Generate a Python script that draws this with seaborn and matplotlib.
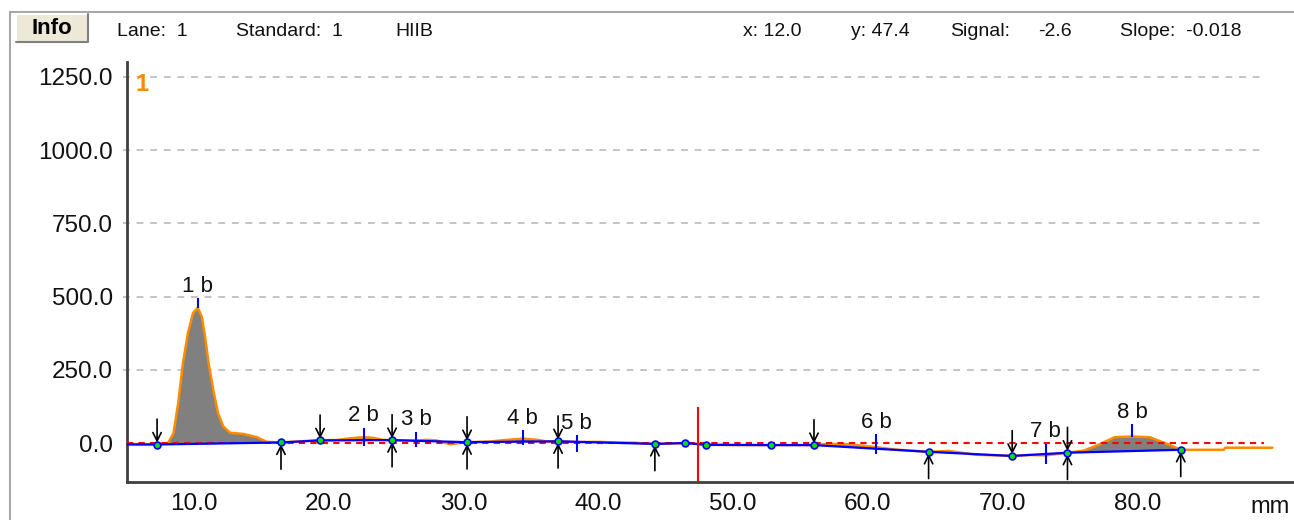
import numpy as np
import matplotlib
matplotlib.use("Agg")
import matplotlib.pyplot as plt
import seaborn as sns
from matplotlib.patches import Rectangle
from matplotlib.lines import Line2D

# ---------------- data ----------------
signal_x = [5.0, 7.28, 8.1, 8.5, 8.85, 9.2, 9.57, 9.95, 10.3, 10.6, 10.84, 11.1, 11.45, 11.8,
            12.2, 12.7, 13.7, 14.7, 15.4, 16.47, 18.0, 19.37, 20.5, 21.2, 22.0, 22.6, 23.3,
            24.0, 24.71, 26.5, 27.3, 28.0, 29.0, 30.27, 32.0, 33.0, 34.4, 35.5, 36.2, 37.02,
            38.4, 40.0, 41.5, 42.6, 44.2, 46.46, 47.99, 50.0, 52.8, 56.0, 57.0, 58.5, 60.6,
            62.0, 64.5, 66.0, 68.0, 70.7, 72.0, 73.2, 74.8, 76.0, 77.0, 78.3, 79.6, 80.9,
            82.3, 83.2, 86.4, 86.5, 90.0]
signal_y = [-3, -4, 0, 34, 137, 273, 376, 444, 462, 431, 363, 273, 181, 102,
            56, 35, 31, 20, 4, 2, 6, 10, 10, 14, 18, 20, 18,
            11, 10, 8, 11, 9, -4, 3, 5, 10, 15, 11, 5, 6,
            3, 4, 2, 1, -3, 0, -6, -7, -7, -7, -3, -4, -14,
            -22, -30, -27, -40, -44, -41, -42, -33, -26, -8, 20, 22, 20,
            -5, -23, -23, -16, -16]

baseline_x = [5.0, 7.28, 16.47, 19.37, 24.71, 30.27, 37.02, 44.2, 46.46, 47.99,
              52.8, 56.0, 64.5, 70.7, 74.8, 83.2]
baseline_y = [-5, -5, 2, 9, 10, 3, 6, -3, 0, -6, -7, -7, -30, -44, -33, -23]

dot_x = [7.28, 16.47, 19.37, 24.71, 30.27, 37.02, 44.2, 46.46, 47.99, 52.8,
         56.0, 64.5, 70.7, 74.8, 83.2]

down_arrow_x = [7.28, 19.37, 24.71, 30.27, 37.02, 56.0, 70.7, 74.8]
up_arrow_x = [16.47, 24.71, 30.27, 37.02, 44.2, 64.5, 74.8, 83.2]

peak_labels = ["1 b", "2 b", "3 b", "4 b", "5 b", "6 b", "7 b", "8 b"]
peak_x = [10.3, 22.6, 26.5, 34.4, 38.4, 60.6, 73.2, 79.6]
peak_tick_low = [461, -9, -13, -7, -30, -36, -70, 21]
peak_tick_high = [495, 52, 39, 44, 27, 31, -3, 64]

x_ticks = [10.0, 20.0, 30.0, 40.0, 50.0, 60.0, 70.0, 80.0]
y_ticks = [0.0, 250.0, 500.0, 750.0, 1000.0, 1250.0]
cursor_x = 47.4
cursor_top = 123

header_left = [("Lane:  1", 117), ("Standard:  1", 236), ("HIIB", 395)]
header_right = [("x: 12.0", 743), ("y: 47.4", 851), ("Signal:", 950), ("-2.6", 1038),
                ("Slope:  -0.018", 1120)]

# ---------------- style ----------------
sns.set_style("white")
plt.rcParams["font.family"] = ["Liberation Sans", "DejaVu Sans"]

W, H = 1294, 520
fig = plt.figure(figsize=(W / 100, H / 100), dpi=100)
ax = fig.add_axes([127 / W, 38 / H, (W - 127) / W, 420 / H])

XMIN, XMAX = 5.05, 91.6
YMIN, YMAX = -133, 1301
GRID_END = 89.4

# gridlines
for yv in y_ticks[1:]:
    ax.plot([XMIN - 0.3, GRID_END], [yv, yv], color="#C4C4C4", lw=1.4,
            ls=(0, (3.5, 3.5)), zorder=1, clip_on=False)

# fill between signal and baseline
sx = np.array(signal_x, dtype=float)
sy = np.array(signal_y, dtype=float)
bx_interp = np.interp(sx, baseline_x, baseline_y)
mask = (sx >= 7.28) & (sx <= 83.2)
ax.fill_between(sx[mask], sy[mask], bx_interp[mask], color="#808080", lw=0, zorder=2)

# signal
sns.lineplot(x=signal_x, y=signal_y, color="#FF8A00", lw=1.8, estimator=None,
             sort=False, ax=ax, zorder=3)

# zero line
ax.plot([XMIN, GRID_END], [0, 0], color="#FF0000", lw=1.5, ls=(0, (3, 2.5)), zorder=4)

# baseline
sns.lineplot(x=baseline_x, y=baseline_y, color="#0000FF", lw=1.6, estimator=None,
             sort=False, ax=ax, zorder=5)

# peak ticks and labels
ax.vlines(peak_x, peak_tick_low, peak_tick_high, color="#0000FF", lw=1.5, zorder=6)
for lab, px, hi in zip(peak_labels, peak_x, peak_tick_high):
    ax.text(px, hi + 22, lab, ha="center", va="baseline", fontsize=16, color="#111111",
            zorder=8)

# arrows
for xa in down_arrow_x:
    ya = np.interp(xa, baseline_x, baseline_y)
    ax.annotate("", xy=(xa, ya + 6), xytext=(0, 17), textcoords="offset points",
                arrowprops=dict(arrowstyle="->,head_length=0.6,head_width=0.3",
                                color="black", lw=1.2, mutation_scale=10,
                                shrinkA=0, shrinkB=0), zorder=7)
for xa in up_arrow_x:
    ya = np.interp(xa, baseline_x, baseline_y)
    ax.annotate("", xy=(xa, ya - 6), xytext=(0, -18), textcoords="offset points",
                arrowprops=dict(arrowstyle="->,head_length=0.6,head_width=0.3",
                                color="black", lw=1.2, mutation_scale=10,
                                shrinkA=0, shrinkB=0), zorder=7)

# dots
dot_y = np.interp(dot_x, baseline_x, baseline_y)
sns.scatterplot(x=dot_x, y=dot_y, s=24, color="#00E000", edgecolor="#0000FF",
                linewidth=1.2, ax=ax, zorder=9)

# cursor
ax.vlines(cursor_x, YMIN, cursor_top, color="#FF0000", lw=1.5, zorder=6)

# lane number
ax.text(6.2, 1223, "1", color="#FF8A00", fontsize=17, fontweight="bold",
        ha="center", va="center")

# axes
ax.set_xlim(XMIN, XMAX)
ax.set_ylim(YMIN, YMAX)
ax.set_xticks(x_ticks)
ax.set_xticklabels([f"{v:.1f}" for v in x_ticks])
ax.set_yticks(y_ticks)
ax.set_yticklabels([f"{v:.1f}" for v in y_ticks])
ax.tick_params(axis="x", direction="out", length=4, width=1.5, color="#404040",
               labelsize=17.5, pad=4, labelcolor="#111111")
ax.tick_params(axis="y", direction="out", length=4, width=1.4, color="#C4C4C4",
               labelsize=17.5, pad=6, labelcolor="#111111")
for side in ["top", "right"]:
    ax.spines[side].set_visible(False)
for side in ["left", "bottom"]:
    ax.spines[side].set_color("#404040")
    ax.spines[side].set_linewidth(2)
ax.set_xlabel("")
ax.set_ylabel("")
ax.grid(False)

fig.text(1270 / W, 1 - 507 / H, "mm", ha="center", va="center", fontsize=17,
         color="#111111")

# outer frame
fig.add_artist(Line2D([10 / W, 10 / W], [0, 1 - 12 / H], color="#A8A8A8", lw=1.5,
                      transform=fig.transFigure))
fig.add_artist(Line2D([10 / W, 1], [1 - 12 / H, 1 - 12 / H], color="#A8A8A8", lw=1.5,
                      transform=fig.transFigure))

# Info button
bx0, by0, bw, bh = 16 / W, 1 - 42 / H, 72 / W, 28 / H
fig.add_artist(Rectangle((bx0, by0), bw, bh, transform=fig.transFigure,
                         facecolor="#ECE9D8", edgecolor="none"))
fig.add_artist(Line2D([bx0, bx0, bx0 + bw], [by0, by0 + bh, by0 + bh], color="#FFFFFF",
                      lw=1.5, transform=fig.transFigure))
fig.add_artist(Line2D([bx0, bx0 + bw, bx0 + bw], [by0, by0, by0 + bh], color="#808080",
                      lw=1.5, transform=fig.transFigure))
fig.text(bx0 + bw / 2, by0 + bh / 2, "Info", ha="center", va="center", fontsize=16,
         fontweight="bold", color="#000000")

for txt, px in header_left + header_right:
    fig.text(px / W, 1 - 31 / H, txt, ha="left", va="center", fontsize=14,
             color="#111111")

fig.savefig("out.png", dpi=100)
